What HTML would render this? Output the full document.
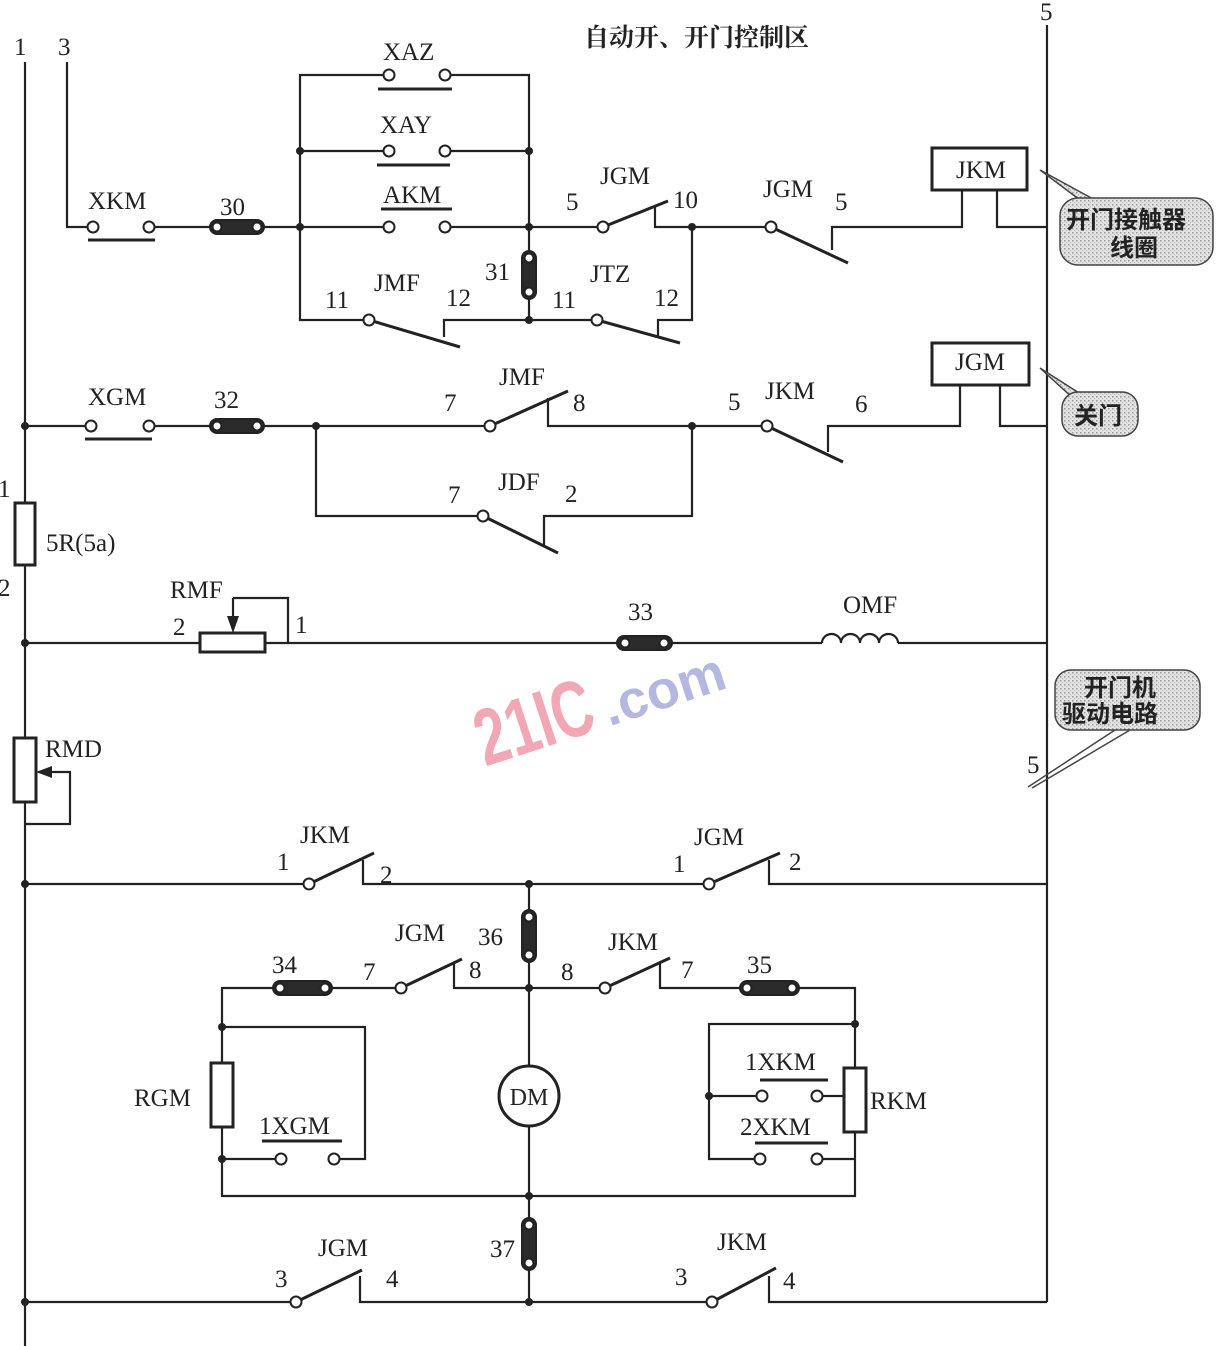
<!DOCTYPE html>
<html><head><meta charset="utf-8"><style>
html,body{margin:0;padding:0;background:#fff;}
svg{display:block;}
text{font-family:"Liberation Serif","Noto Serif CJK SC",serif;font-size:25px;fill:#222;}
.cn{font-family:"Liberation Sans","Noto Sans CJK SC",sans-serif;font-weight:bold;font-size:24px;}
</style></head><body>
<svg width="1217" height="1346" viewBox="0 0 1217 1346" xmlns="http://www.w3.org/2000/svg">
<defs>
<pattern id="dots" width="4" height="4" patternUnits="userSpaceOnUse"><rect width="4" height="4" fill="#e4e4e4"/><rect x="0" y="0" width="1.5" height="1.5" fill="#999"/><rect x="2" y="2" width="1.2" height="1.2" fill="#bbb"/></pattern>
</defs>
<!-- watermark -->
<text x="470" y="750" transform="rotate(-18 530 710)" style="font-family:'Liberation Sans',sans-serif;font-weight:bold;font-size:80px;fill:#f2a8b4" textLength="120" lengthAdjust="spacingAndGlyphs">21IC</text>
<text x="600" y="712" transform="rotate(-18 650 690)" style="font-family:'Liberation Sans',sans-serif;font-weight:bold;font-size:54px;fill:#b4b8e0">.com</text>

<g stroke="#222" stroke-width="2.2" fill="none">
<!-- rails -->
<line x1="25" y1="62" x2="25" y2="1346"/>
<line x1="1047" y1="25" x2="1047" y2="1302"/>

<!-- Row1 -->
<polyline points="67,62 67,227 88,227"/>
<line x1="154" y1="227" x2="300" y2="227"/>
<polyline points="300,227 300,75 384,75"/>
<polyline points="450,75 529,75 529,320"/>
<line x1="300" y1="151" x2="384" y2="151"/>
<line x1="450" y1="151" x2="529" y2="151"/>
<line x1="300" y1="227" x2="384" y2="227"/>
<line x1="450" y1="227" x2="597" y2="227"/>
<polyline points="300,227 300,320 364,320"/>
<polyline points="444,337 444,320 529,320"/>
<line x1="529" y1="320" x2="592" y2="320"/>
<polyline points="658,338 658,320 692,320 692,227"/>
<polyline points="655,207 655,227 766,227"/>
<polyline points="832,250 832,227 962,227 962,190"/>
<polyline points="997,190 997,227 1047,227"/>
<rect x="932" y="148" width="95" height="42" stroke-width="3"/>

<!-- Row2 -->
<line x1="25" y1="426" x2="86" y2="426"/>
<line x1="154" y1="426" x2="486" y2="426"/>
<polyline points="548,398 548,426 762,426"/>
<polyline points="828,452 828,426 960,426 960,385"/>
<polyline points="1000,385 1000,426 1047,426"/>
<rect x="932" y="343" width="97" height="42" stroke-width="3"/>
<polyline points="316,426 316,516 478,516"/>
<polyline points="544,546 544,516 692,516 692,426"/>

<!-- fuse, RMF -->
<rect x="15" y="503" width="20" height="62" stroke-width="3" fill="#fff"/>
<line x1="25" y1="643" x2="200" y2="643"/>
<rect x="200" y="633" width="65" height="19" stroke-width="3" fill="#fff"/>
<polyline points="233,598 288,598 288,643"/>
<line x1="233" y1="598" x2="233" y2="624"/>
<line x1="265" y1="643" x2="822" y2="643"/>
<path d="M822,643 a9.5,9 0 0 1 19,0 a9.5,9 0 0 1 19,0 a9.5,9 0 0 1 19,0 a9.5,9 0 0 1 19,0"/>
<line x1="898" y1="643" x2="1047" y2="643"/>

<!-- RMD -->
<rect x="14" y="738" width="22" height="64" stroke-width="3" fill="#fff"/>
<polyline points="48,772 70,772 70,824 25,824"/>

<!-- JKM/JGM row 884 -->
<line x1="25" y1="884" x2="304" y2="884"/>
<polyline points="363,860 363,884 704,884"/>
<polyline points="769,860 769,884 1047,884"/>
<line x1="529" y1="884" x2="529" y2="1066"/>
<line x1="529" y1="1126" x2="529" y2="1302"/>

<!-- row 988 -->
<polyline points="396,988 222,988 222,1196 855,1196 855,988 742,988"/>
<polyline points="454,962 454,988 600,988"/>
<polyline points="660,962 660,988 742,988"/>
<polyline points="222,1027 365,1027 365,1159 339,1159"/>
<line x1="222" y1="1159" x2="276" y2="1159"/>
<rect x="211" y="1063" width="22" height="64" stroke-width="3" fill="#fff"/>
<polyline points="855,1024 709,1024 709,1159 755,1159"/>
<line x1="822" y1="1159" x2="855" y2="1159"/>
<line x1="709" y1="1096" x2="757" y2="1096"/>
<line x1="822" y1="1096" x2="844" y2="1096"/>
<rect x="844" y="1068" width="22" height="64" stroke-width="3" fill="#fff"/>
<circle cx="529" cy="1096" r="30" stroke-width="3" fill="#fff"/>

<!-- bottom row -->
<line x1="25" y1="1302" x2="291" y2="1302"/>
<polyline points="360,1276 360,1302 707,1302"/>
<polyline points="769,1276 769,1302 1047,1302"/>
</g>

<!-- arrows -->
<polygon points="233,633 227,616 239,616" fill="#222"/>
<polygon points="36,772 52,766 52,778" fill="#222"/>

<!-- switch blades -->
<g stroke="#222" stroke-width="3">
<line x1="369" y1="320" x2="460" y2="347"/>
<line x1="597" y1="320" x2="680" y2="343"/>
<line x1="603" y1="227" x2="668" y2="201"/>
<line x1="771" y1="227" x2="848" y2="263"/>
<line x1="490" y1="426" x2="568" y2="391"/>
<line x1="767" y1="426" x2="843" y2="462"/>
<line x1="483" y1="516" x2="558" y2="553"/>
<line x1="309" y1="884" x2="374" y2="853"/>
<line x1="709" y1="884" x2="780" y2="853"/>
<line x1="401" y1="988" x2="462" y2="959"/>
<line x1="605" y1="988" x2="670" y2="958"/>
<line x1="296" y1="1302" x2="362" y2="1270"/>
<line x1="712" y1="1302" x2="776" y2="1268"/>
<!-- push button bars -->
<line x1="88" y1="240" x2="155" y2="240"/>
<line x1="378" y1="89" x2="452" y2="89"/>
<line x1="377" y1="165" x2="450" y2="165"/>
<line x1="381" y1="209" x2="452" y2="209"/>
<line x1="85" y1="439" x2="152" y2="439"/>
<line x1="262" y1="1141" x2="342" y2="1141"/>
<line x1="760" y1="1080" x2="828" y2="1080"/>
<line x1="755" y1="1143" x2="828" y2="1143"/>
</g>

<!-- links -->
<g stroke="#222" stroke-width="2">
<rect x="210" y="220" width="54" height="14" rx="7" fill="#2a2a2a"/>
<rect x="210" y="419" width="54" height="14" rx="7" fill="#2a2a2a"/>
<rect x="617" y="636" width="55" height="14" rx="7" fill="#2a2a2a"/>
<rect x="273" y="981" width="59" height="14" rx="7" fill="#2a2a2a"/>
<rect x="740" y="981" width="59" height="14" rx="7" fill="#2a2a2a"/>
<rect x="522" y="251" width="14" height="48" rx="7" fill="#2a2a2a"/>
<rect x="522" y="910" width="14" height="52" rx="7" fill="#2a2a2a"/>
<rect x="522" y="1218" width="14" height="52" rx="7" fill="#2a2a2a"/>
</g>
<g fill="#fff" stroke="#222" stroke-width="2">
<circle cx="217" cy="227" r="4.5"/><circle cx="257" cy="227" r="4.5"/>
<circle cx="217" cy="426" r="4.5"/><circle cx="257" cy="426" r="4.5"/>
<circle cx="625" cy="643" r="4.5"/><circle cx="664" cy="643" r="4.5"/>
<circle cx="280" cy="988" r="4.5"/><circle cx="325" cy="988" r="4.5"/>
<circle cx="747" cy="988" r="4.5"/><circle cx="792" cy="988" r="4.5"/>
<circle cx="529" cy="258" r="4.5"/><circle cx="529" cy="292" r="4.5"/>
<circle cx="529" cy="917" r="4.5"/><circle cx="529" cy="955" r="4.5"/>
<circle cx="529" cy="1225" r="4.5"/><circle cx="529" cy="1263" r="4.5"/>
<circle cx="93" cy="227" r="5.5"/><circle cx="149" cy="227" r="5.5"/>
<circle cx="389" cy="75" r="5.5"/><circle cx="445" cy="75" r="5.5"/>
<circle cx="389" cy="151" r="5.5"/><circle cx="445" cy="151" r="5.5"/>
<circle cx="389" cy="227" r="5.5"/><circle cx="445" cy="227" r="5.5"/>
<circle cx="369" cy="320" r="5.5"/><circle cx="597" cy="320" r="5.5"/>
<circle cx="603" cy="227" r="5.5"/><circle cx="771" cy="227" r="5.5"/>
<circle cx="91" cy="426" r="5.5"/><circle cx="149" cy="426" r="5.5"/>
<circle cx="490" cy="426" r="5.5"/><circle cx="767" cy="426" r="5.5"/>
<circle cx="483" cy="516" r="5.5"/>
<circle cx="309" cy="884" r="5.5"/><circle cx="709" cy="884" r="5.5"/>
<circle cx="401" cy="988" r="5.5"/><circle cx="605" cy="988" r="5.5"/>
<circle cx="281" cy="1159" r="5.5"/><circle cx="334" cy="1159" r="5.5"/>
<circle cx="762" cy="1096" r="5.5"/><circle cx="817" cy="1096" r="5.5"/>
<circle cx="760" cy="1159" r="5.5"/><circle cx="817" cy="1159" r="5.5"/>
<circle cx="296" cy="1302" r="5.5"/><circle cx="712" cy="1302" r="5.5"/>
</g>
<g fill="#222">
<circle cx="300" cy="151" r="4"/><circle cx="529" cy="151" r="4"/>
<circle cx="300" cy="227" r="4"/><circle cx="529" cy="227" r="4"/>
<circle cx="529" cy="320" r="4"/><circle cx="692" cy="227" r="4"/>
<circle cx="25" cy="426" r="4"/><circle cx="316" cy="426" r="4"/><circle cx="692" cy="426" r="4"/>
<circle cx="25" cy="643" r="4"/><circle cx="25" cy="884" r="4"/><circle cx="529" cy="884" r="4"/>
<circle cx="529" cy="988" r="4"/><circle cx="222" cy="1027" r="4"/><circle cx="222" cy="1159" r="4"/>
<circle cx="855" cy="1024" r="4"/><circle cx="709" cy="1096" r="4"/><circle cx="529" cy="1196" r="4"/>
<circle cx="25" cy="1302" r="4"/><circle cx="529" cy="1302" r="4"/>
</g>

<!-- callouts -->
<g stroke="#444" stroke-width="1.5" fill="url(#dots)">
<path d="M1040,170 L1095,200 L1080,200 Z"/>
<rect x="1060" y="198" width="153" height="67" rx="18"/>
<path d="M1040,368 L1090,400 L1075,400 Z"/>
<rect x="1062" y="392" width="76" height="44" rx="16"/>
<rect x="1055" y="670" width="145" height="60" rx="16"/>
</g>
<g stroke="#444" stroke-width="1.5" fill="none">
<line x1="1028" y1="787" x2="1115" y2="730"/>
<line x1="1032" y1="788" x2="1130" y2="730"/>
</g>
<text class="cn" x="1066" y="228">开门接触器</text>
<text class="cn" x="1110" y="256">线圈</text>
<text class="cn" x="1074" y="424">关门</text>
<text class="cn" x="1084" y="696">开门机</text>
<text class="cn" x="1062" y="722">驱动电路</text>

<!-- labels -->
<text x="14" y="55">1</text>
<text x="58" y="55">3</text>
<text x="1040" y="20">5</text>
<text x="584" y="46" style="font-family:'Liberation Serif','Noto Serif CJK SC',serif;font-weight:bold;font-size:25px;">自动开、开门控制区</text>
<text x="383" y="60">XAZ</text>
<text x="380" y="133">XAY</text>
<text x="383" y="203">AKM</text>
<text x="88" y="209">XKM</text>
<text x="220" y="215">30</text>
<text x="374" y="291">JMF</text>
<text x="325" y="308">11</text>
<text x="446" y="306">12</text>
<text x="485" y="280">31</text>
<text x="552" y="308">11</text>
<text x="590" y="282">JTZ</text>
<text x="654" y="306">12</text>
<text x="566" y="210">5</text>
<text x="600" y="184">JGM</text>
<text x="673" y="208">10</text>
<text x="763" y="197">JGM</text>
<text x="835" y="210">5</text>
<text x="956" y="178">JKM</text>
<text x="955" y="370">JGM</text>
<text x="88" y="405">XGM</text>
<text x="214" y="408">32</text>
<text x="444" y="411">7</text>
<text x="499" y="385">JMF</text>
<text x="573" y="411">8</text>
<text x="728" y="410">5</text>
<text x="765" y="399">JKM</text>
<text x="855" y="412">6</text>
<text x="448" y="503">7</text>
<text x="498" y="490">JDF</text>
<text x="565" y="502">2</text>
<text x="-2" y="497">1</text>
<text x="46" y="551">5R(5a)</text>
<text x="-2" y="596">2</text>
<text x="170" y="598">RMF</text>
<text x="173" y="635">2</text>
<text x="295" y="633">1</text>
<text x="628" y="620">33</text>
<text x="843" y="613">OMF</text>
<text x="45" y="757">RMD</text>
<text x="1027" y="773">5</text>
<text x="300" y="843">JKM</text>
<text x="277" y="870">1</text>
<text x="380" y="883">2</text>
<text x="694" y="845">JGM</text>
<text x="673" y="872">1</text>
<text x="789" y="870">2</text>
<text x="395" y="941">JGM</text>
<text x="478" y="945">36</text>
<text x="272" y="973">34</text>
<text x="363" y="980">7</text>
<text x="469" y="978">8</text>
<text x="561" y="980">8</text>
<text x="608" y="950">JKM</text>
<text x="681" y="978">7</text>
<text x="747" y="973">35</text>
<text x="134" y="1106">RGM</text>
<text x="529" y="1105" text-anchor="middle" style="font-size:24px">DM</text>
<text x="259" y="1134">1XGM</text>
<text x="745" y="1070">1XKM</text>
<text x="740" y="1135">2XKM</text>
<text x="870" y="1109">RKM</text>
<text x="318" y="1256">JGM</text>
<text x="490" y="1257">37</text>
<text x="275" y="1287">3</text>
<text x="386" y="1287">4</text>
<text x="717" y="1250">JKM</text>
<text x="675" y="1285">3</text>
<text x="783" y="1289">4</text>
</svg>
</body></html>
